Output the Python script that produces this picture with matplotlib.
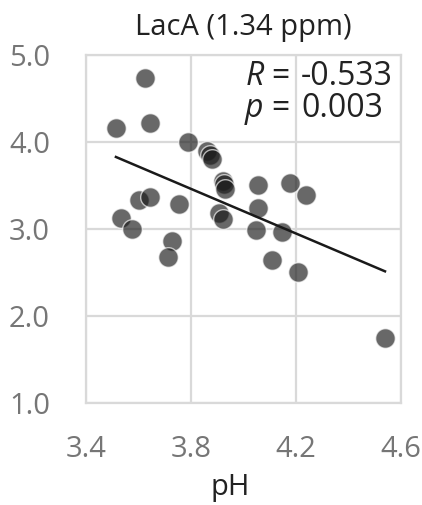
import numpy as np
import matplotlib
matplotlib.use("Agg")
import matplotlib.pyplot as plt

plt.rcParams["font.family"] = ["Open Sans", "DejaVu Sans"]
plt.rcParams["mathtext.fontset"] = "custom"
plt.rcParams["mathtext.it"] = "Open Sans:italic"
plt.rcParams["mathtext.rm"] = "Open Sans"

# pH vs LacA signal
ph = [3.625, 3.514, 3.644, 3.789,
      3.602, 3.644, 3.754, 3.533, 3.575, 3.728, 3.712,
      3.862, 3.872, 3.880,
      3.920, 3.924, 3.930,
      3.907, 3.922,
      4.055, 4.177, 4.238, 4.055, 4.048, 4.147, 4.109, 4.208,
      4.539]
laca = [4.74, 4.16, 4.22, 4.00,
        3.33, 3.37, 3.29, 3.13, 3.00, 2.86, 2.68,
        3.90, 3.85, 3.81,
        3.55, 3.52, 3.46,
        3.18, 3.11,
        3.51, 3.53, 3.39, 3.24, 2.99, 2.97, 2.64, 2.51,
        1.75]
x_ticks = [3.4, 3.8, 4.2, 4.6]
y_ticks = [1.0, 2.0, 3.0, 4.0, 5.0]
title = "LacA (1.34 ppm)"
r_text = "-0.533"
p_text = "0.003"

ph = np.array(ph); laca = np.array(laca)

fig = plt.figure(figsize=(4.22, 5.05), dpi=100)
ax = fig.add_axes([86/422, 1-403/505, 315/422, 348/505])

grid_c = "#d9d9d9"
ax.scatter(ph, laca, s=200, color="#1a1a1a", alpha=0.66,
           edgecolors="white", linewidths=1.0, zorder=3)

# least-squares line over the data range
slope, icpt = np.polyfit(ph, laca, 1)
xl = np.array([ph.min(), ph.max()])
ax.plot(xl, slope*xl + icpt, color="#1a1a1a", lw=1.8, zorder=4)

ax.set_xlim(3.4, 4.6); ax.set_ylim(1.0, 5.0)
ax.set_xticks(x_ticks); ax.set_xticklabels([f"{t:.1f}" for t in x_ticks])
ax.set_yticks(y_ticks); ax.set_yticklabels([f"{t:.1f}" for t in y_ticks])
ax.grid(True, color=grid_c, lw=1.6, zorder=0)
for s in ax.spines.values():
    s.set_color(grid_c); s.set_linewidth(1.6)
ax.tick_params(length=0, labelsize=21, colors="#767676")
ax.tick_params(axis="x", pad=23)
ax.tick_params(axis="y", pad=26)
ax.set_xlabel("pH", fontsize=21, color="#222222")
ax.xaxis.set_label_coords(0.457, -0.20)

fig.text(243.5/422, 1-35/505, title, ha="center", va="baseline",
         fontsize=21, color="#222222")

ax.text(0.648, 0.914, r"$R$ =", transform=ax.transAxes, ha="right",
        va="baseline", fontsize=23, color="#222222")
ax.text(0.683, 0.914, r_text, transform=ax.transAxes, ha="left",
        va="baseline", fontsize=23, color="#222222")
ax.text(0.648, 0.822, r"$p$ =", transform=ax.transAxes, ha="right",
        va="baseline", fontsize=23, color="#222222")
ax.text(0.683, 0.822, p_text, transform=ax.transAxes, ha="left",
        va="baseline", fontsize=23, color="#222222")

fig.savefig("out.png", dpi=100)
